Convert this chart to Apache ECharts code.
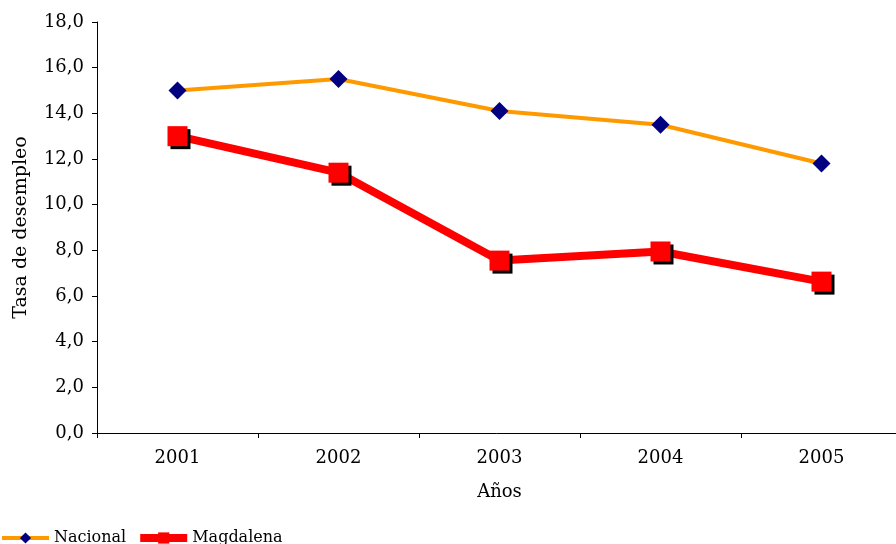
<!DOCTYPE html>
<html>
<head>
<meta charset="utf-8">
<script src="https://cdn.jsdelivr.net/npm/echarts@6/dist/echarts.min.js"></script>
<style>
  html, body { margin: 0; padding: 0; background: #fff; }
  #chart { width: 896px; height: 544px; }
</style>
</head>
<body>
<div id="chart"></div>
<script>
var years = ['2001', '2002', '2003', '2004', '2005'];
var nacional = [15.0, 15.5, 14.1, 13.5, 11.8];
var magdalena = [13.0, 11.4, 7.55, 7.95, 6.63];

var chartDom = document.getElementById('chart');
var myChart = echarts.init(chartDom);
var font = 'DejaVu Serif';
var option;

option = {
  animation: false,
  textStyle: { fontFamily: font },
  grid: {
    left: 97,
    top: 22,
    width: 805,
    height: 411,
    containLabel: false,
    outerBoundsMode: 'none'
  },
  legend: {
    left: 0,
    bottom: -2,
    padding: 0,
    itemWidth: 47,
    itemHeight: 14,
    itemGap: 10,
    textStyle: { fontFamily: font, fontSize: 16, color: '#000' },
    data: [
      { name: 'Nacional', lineStyle: { width: 4 } },
      { name: 'Magdalena', lineStyle: { width: 8 } }
    ]
  },
  xAxis: {
    type: 'category',
    data: years,
    name: 'Años',
    nameLocation: 'middle',
    nameGap: 50,
    nameTextStyle: { fontFamily: font, fontSize: 18, color: '#000' },
    axisLine: { lineStyle: { color: '#000', width: 1 } },
    axisTick: { show: true, length: 5, lineStyle: { color: '#000' } },
    axisLabel: { color: '#000', fontSize: 18, margin: 16 }
  },
  yAxis: {
    type: 'value',
    min: 0,
    max: 18,
    interval: 2,
    name: 'Tasa de desempleo',
    nameLocation: 'middle',
    nameGap: 66,
    nameTextStyle: { fontFamily: font, fontSize: 19, color: '#000' },
    axisLine: { show: true, lineStyle: { color: '#000', width: 1 } },
    axisTick: { show: true, length: 5, lineStyle: { color: '#000' } },
    splitLine: { show: false },
    axisLabel: {
      color: '#000',
      fontSize: 18,
      margin: 13,
      formatter: function (v) { return v.toFixed(1).replace('.', ','); }
    }
  },
  series: [
    {
      name: 'Nacional',
      type: 'line',
      data: nacional,
      symbol: 'diamond',
      symbolSize: [18, 18],
      lineStyle: { color: '#FF9900', width: 4 },
      itemStyle: { color: '#000080' },
      color: '#FF9900'
    },
    {
      name: 'Magdalena',
      type: 'line',
      data: magdalena,
      symbol: 'rect',
      symbolSize: [20, 20],
      lineStyle: { color: '#FF0000', width: 8 },
      itemStyle: {
        color: '#FF0000',
        shadowColor: '#000',
        shadowOffsetX: 3,
        shadowOffsetY: 3,
        shadowBlur: 0
      },
      color: '#FF0000'
    }
  ]
};

option && myChart.setOption(option);
</script>
</body>
</html>
